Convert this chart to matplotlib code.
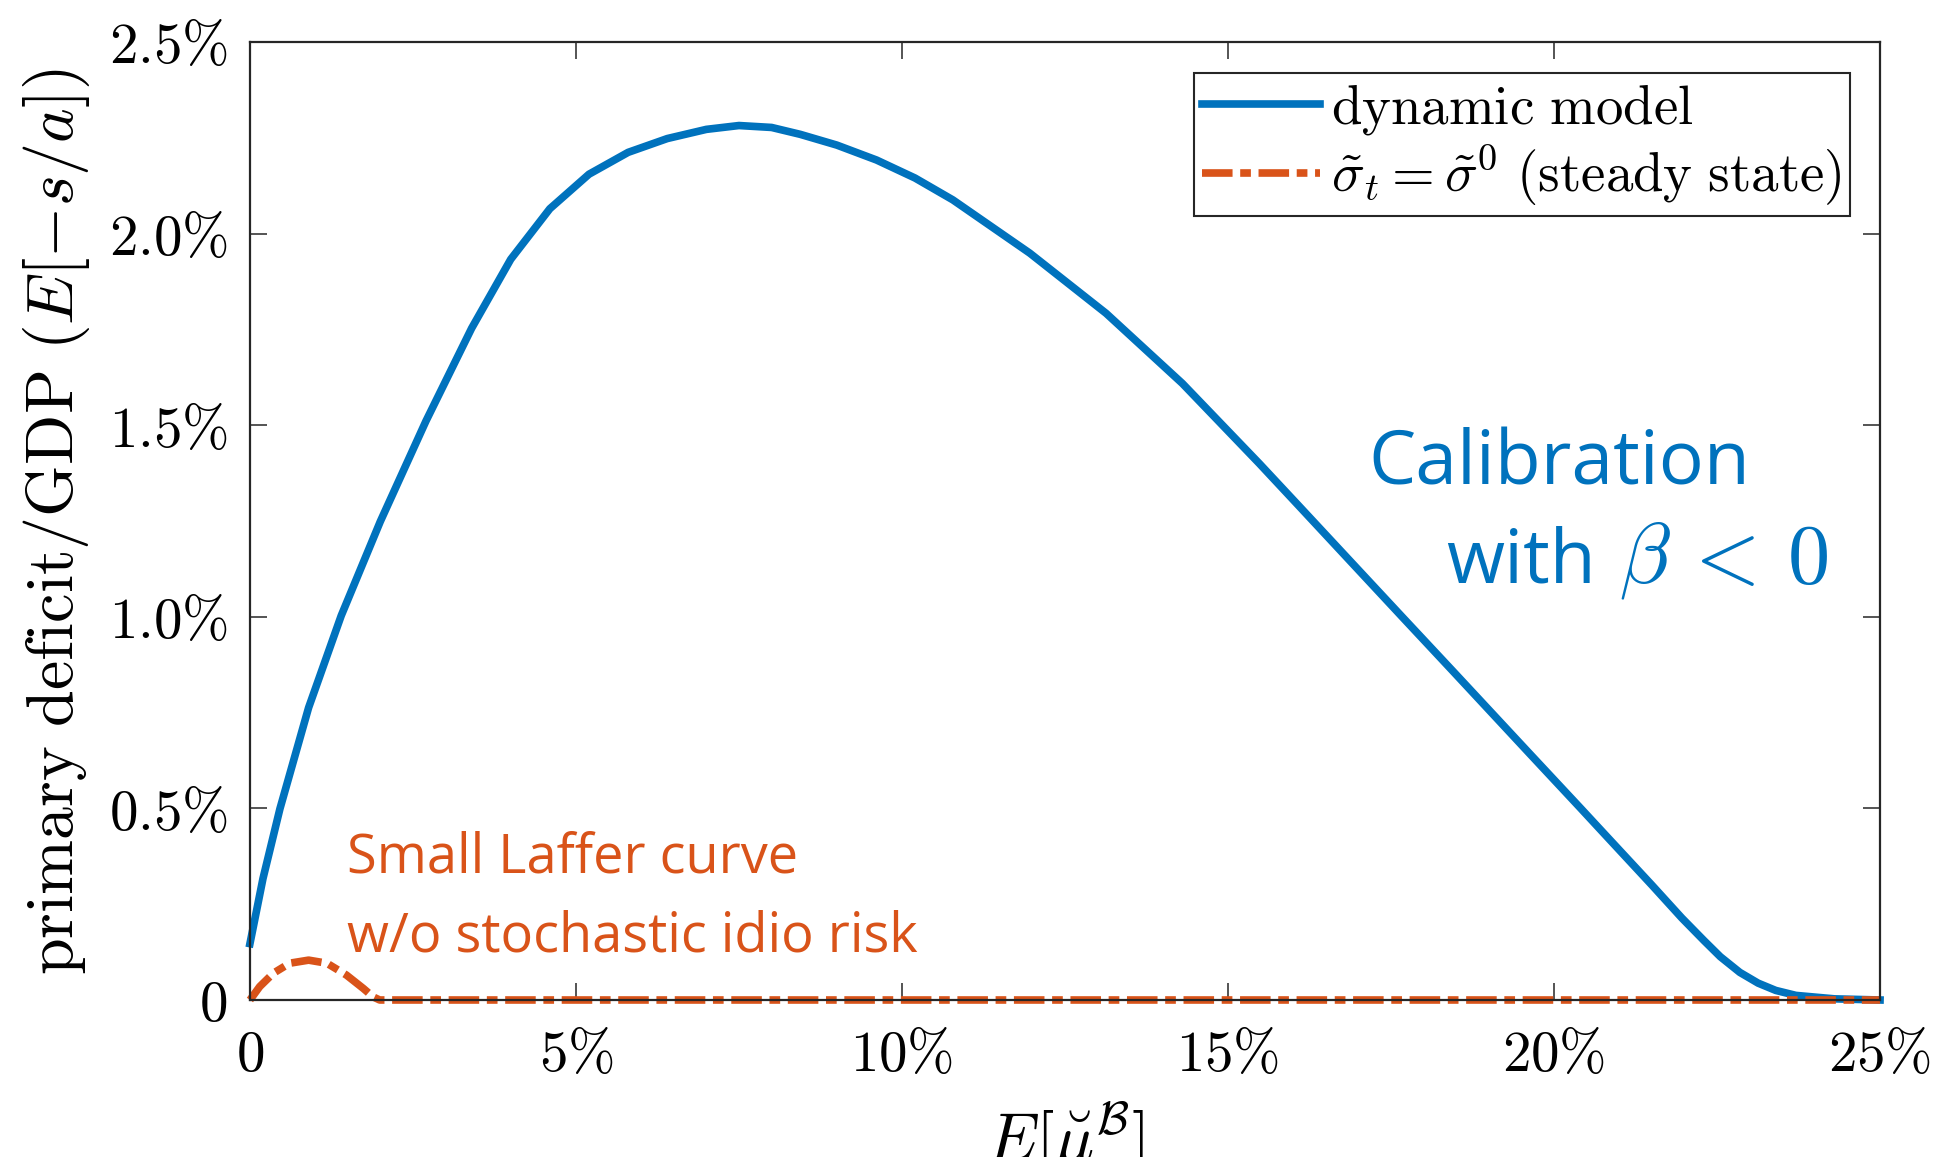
import matplotlib
matplotlib.use("Agg")
import matplotlib.pyplot as plt

plt.rcParams['mathtext.fontset'] = 'cm'

# dynamic model (blue), in percent
x_dyn = [0, 0.2, 0.46, 0.9, 1.4, 2.0, 2.7, 3.4, 4.0, 4.6, 5.2, 5.8, 6.4, 7.0,
         7.5, 8.0, 8.44, 9.0, 9.61, 10.2, 10.78, 11.96, 13.13, 14.3, 15.48, 16.1,
         16.8, 17.67, 18.45, 19.62, 20.41, 20.78, 21.5, 21.96, 22.3, 22.55, 22.85,
         23.13, 23.4, 23.71, 24.3, 25]
y_dyn = [0.147, 0.317, 0.499, 0.763, 1.003, 1.249, 1.511, 1.753, 1.933, 2.065, 2.155,
         2.212, 2.248, 2.272, 2.282, 2.277, 2.259, 2.231, 2.192, 2.145, 2.088, 1.949,
         1.792, 1.609, 1.40, 1.287, 1.159, 1.0, 0.858, 0.644, 0.5, 0.432, 0.3, 0.214,
         0.155, 0.113, 0.072, 0.044, 0.025, 0.012, 0.003, 0]

# steady state (orange)
x_ss = [0, 0.15, 0.36, 0.61, 0.9, 1.18, 1.48, 1.74, 1.89, 1.99, 25]
y_ss = [0, 0.035, 0.07, 0.096, 0.104, 0.096, 0.065, 0.03, 0.008, 0, 0]

x_ticks = [0, 5, 10, 15, 20, 25]
x_ticklabels = [r'$0$', r'$5\%$', r'$10\%$', r'$15\%$', r'$20\%$', r'$25\%$']
y_ticks = [0, 0.5, 1.0, 1.5, 2.0, 2.5]
y_ticklabels = [r'$0$', r'$0.5\%$', r'$1.0\%$', r'$1.5\%$', r'$2.0\%$', r'$2.5\%$']

series_names = [r'$\mathrm{dynamic\ model}$',
                r'$\tilde{\sigma}_t = \tilde{\sigma}^0\ \mathrm{(steady\ state)}$']

blue = '#0072BD'
orange = '#D95319'

fig = plt.figure(figsize=(19.36, 11.57), dpi=100)
ax = fig.add_axes([0.1291, 0.1357, 0.842, 0.828])

ax.plot(x_dyn, y_dyn, color=blue, lw=5.5, label=series_names[0],
        solid_joinstyle='round', clip_on=False)
ax.plot(x_ss, y_ss, color=orange, lw=5.5, linestyle=(0, (4.0, 1.0, 1.4, 1.0)),
        label=series_names[1], clip_on=False)

ax.set_xlim(0, 25)
ax.set_ylim(0, 2.5)
ax.set_xticks(x_ticks)
ax.set_xticklabels(x_ticklabels)
ax.set_yticks(y_ticks)
ax.set_yticklabels(y_ticklabels)
ax.tick_params(direction='in', length=12, width=1.1, top=True, right=True,
               labelsize=41, color='#262626')
ax.tick_params(axis='x', pad=20)
ax.tick_params(axis='y', pad=16)
for sp in ax.spines.values():
    sp.set_linewidth(1.6)
    sp.set_color('#262626')

ax.set_xlabel(r'$E[\breve{\mu}^{\mathcal{B}}]$', fontsize=48, labelpad=12)
ax.set_ylabel(r'$\mathrm{primary\ deficit/GDP}\ (E[-s/a])$', fontsize=47.5, labelpad=12)

leg = ax.legend(loc='upper right', bbox_to_anchor=(0.9816, 0.9676), borderaxespad=0,
                fontsize=39.5, fancybox=False, framealpha=1, edgecolor='#262626',
                handlelength=2.15, handletextpad=0.2, labelspacing=0.1,
                borderpad=0.15)
leg.get_frame().set_linewidth(1.5)

ax.text(0.686, 0.5386, 'Calibration', transform=ax.transAxes, color=blue,
        fontsize=54, family='Open Sans', va='baseline')
ax.text(0.734, 0.4353, 'with', transform=ax.transAxes, color=blue,
        fontsize=54, family='Open Sans', va='baseline')
ax.text(0.840, 0.4353, r'$\beta\,<\,0$', transform=ax.transAxes, color=blue,
        fontsize=61, va='baseline')
ax.text(0.0595, 0.1326, 'Small Laffer curve', transform=ax.transAxes, color=orange,
        fontsize=39, family='Open Sans', va='baseline')
ax.text(0.0595, 0.0511, 'w/o stochastic idio risk', transform=ax.transAxes, color=orange,
        fontsize=39, family='Open Sans', va='baseline')

fig.savefig('out.png', dpi=100)
